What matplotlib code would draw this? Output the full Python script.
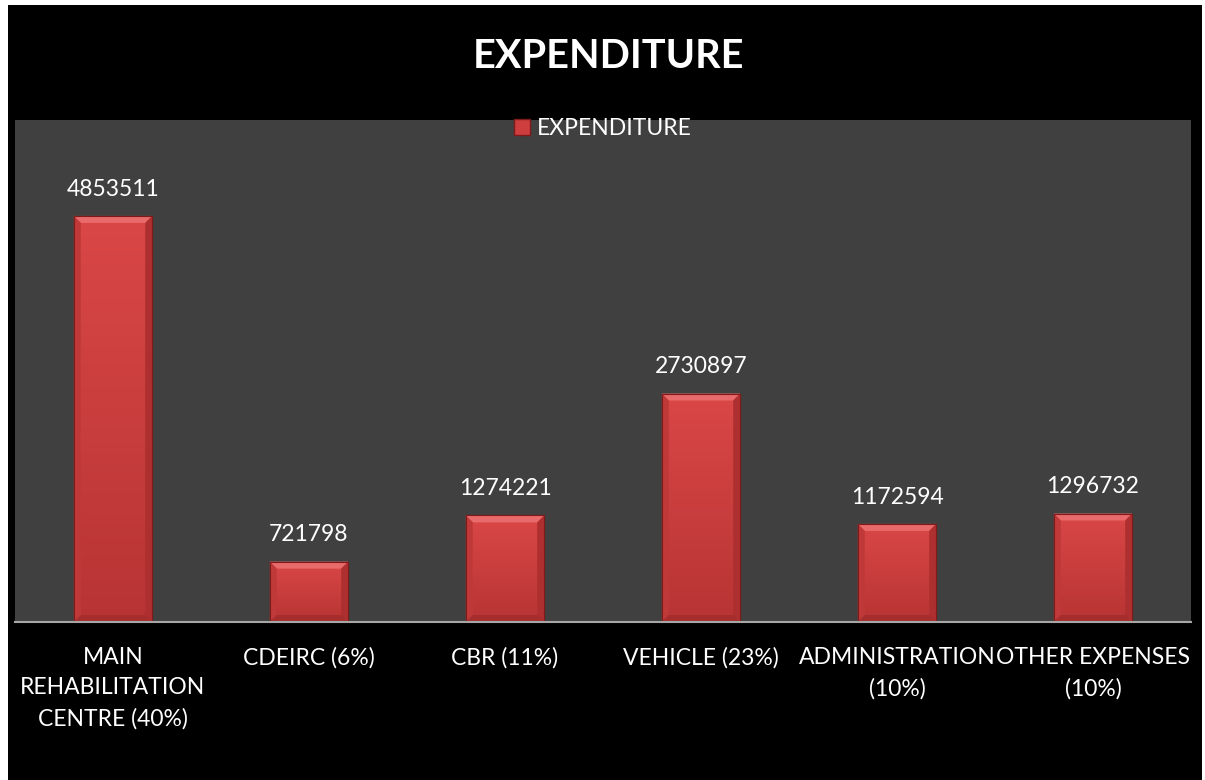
import matplotlib.pyplot as plt
import numpy as np
from matplotlib.patches import Rectangle, Polygon
from matplotlib.colors import LinearSegmentedColormap

categories = ["MAIN\nREHABILITATION\nCENTRE (40%)", "CDEIRC (6%)", "CBR (11%)",
              "VEHICLE (23%)", "ADMINISTRATION\n(10%)", "OTHER EXPENSES\n(10%)"]
values = [4853511, 721798, 1274221, 2730897, 1172594, 1296732]
series_name = "EXPENDITURE"
title = "EXPENDITURE"

plt.rcParams['font.family'] = ['Lato', 'DejaVu Sans']

W, H = 1205, 780
fig = plt.figure(figsize=(W / 100, H / 100), dpi=100, facecolor='white')
# black chart area (white margin on the left/top like the source image)
fig.add_artist(Rectangle((8 / W, 0), 1194 / W, 775 / H, transform=fig.transFigure,
                         facecolor='black', edgecolor='none', zorder=0))

ax = fig.add_axes([15 / W, 158 / H, 1176 / W, 502 / H])
ax.set_facecolor('#404040')

x = np.arange(len(categories))
bars = ax.bar(x, values, width=0.4, color='#CF3E3E', edgecolor='#7E1A1A',
              linewidth=0.8, zorder=2)
ax.set_xlim(-0.5, len(categories) - 0.5)
ax.set_ylim(0, 6000000)

# bevel look of the Excel bars
grad_cmap = LinearSegmentedColormap.from_list('bar', ['#B83434', '#DA4747'])
grad = np.linspace(0, 1, 256).reshape(-1, 1)
bx = 7 / 196
by = 7 * 6000000 / 502
for b in bars:
    x0, w, h = b.get_x(), b.get_width(), b.get_height()
    im = ax.imshow(grad, extent=[x0, x0 + w, 0, h], origin='lower', aspect='auto',
                   cmap=grad_cmap, zorder=2.1)
    im.set_clip_path(b)
    ax.add_patch(Polygon([(x0, h), (x0 + w, h), (x0 + w - bx, h - by), (x0 + bx, h - by)],
                         facecolor='#E96A6A', edgecolor='none', zorder=2.2))
    ax.add_patch(Polygon([(x0, h), (x0 + bx, h - by), (x0 + bx, by), (x0, 0)],
                         facecolor='#C03939', edgecolor='none', zorder=2.2))
    ax.add_patch(Polygon([(x0 + w, h), (x0 + w - bx, h - by), (x0 + w - bx, by), (x0 + w, 0)],
                         facecolor='#AE2F2F', edgecolor='none', zorder=2.2))
    ax.add_patch(Polygon([(x0, 0), (x0 + bx, by), (x0 + w - bx, by), (x0 + w, 0)],
                         facecolor='#A52D2D', edgecolor='none', zorder=2.2))
    ax.add_patch(Rectangle((x0, 0), w, h, facecolor='none', edgecolor='#7E1A1A',
                           linewidth=0.8, zorder=2.3))
    ax.annotate(str(int(h)), (b.get_x() + w / 2, h), xytext=(0, 14.5),
                textcoords='offset points', ha='center', va='baseline',
                color='white', fontsize=16.5)

ax.set_xlim(-0.5, len(categories) - 0.5)
ax.set_ylim(0, 6000000)

for s in ['top', 'left', 'right']:
    ax.spines[s].set_visible(False)
ax.spines['bottom'].set_color('#A6A6A6')
ax.spines['bottom'].set_linewidth(1.5)
ax.spines['bottom'].set_zorder(3)
ax.set_yticks([])
ax.set_xticks(x)
ax.set_xticklabels(categories, color='white', fontsize=16.5, linespacing=1.55)
ax.tick_params(axis='x', length=0, pad=18)

leg = ax.legend([Rectangle((0, 0), 1, 1, facecolor='#CF3E3E', edgecolor='#7E1A1A')],
                [series_name], loc='upper center', bbox_to_anchor=(0.5, 1.045),
                frameon=False, fontsize=16.5, labelcolor='white',
                handlelength=0.7, handleheight=0.7, handletextpad=0.3)

fig.text(608 / W, 1 - 57 / H, title, ha='center', va='center', color='white',
         fontsize=28.5, fontweight='bold')

fig.savefig('out.png', dpi=100, facecolor=fig.get_facecolor())
